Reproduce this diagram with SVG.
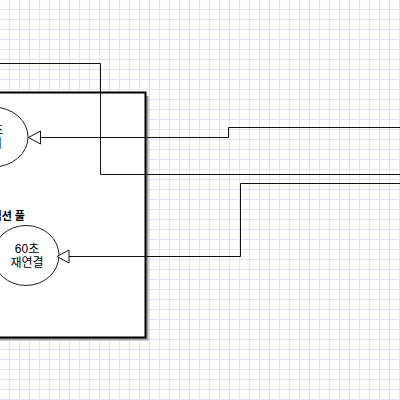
<svg xmlns="http://www.w3.org/2000/svg" width="400" height="400" viewBox="0 0 400 400">
  <defs>
    <pattern id="grid" x="9" y="9" width="10" height="10" patternUnits="userSpaceOnUse">
      <path d="M0.5,0 V10 M0,0.5 H10" fill="none" stroke="#e2e2ff" stroke-width="1.2"/>
    </pattern>
    <style>
      .conn { fill: none; stroke: #111; stroke-width: 1; }
      .arrow { fill: #fff; stroke: #111; stroke-width: 1; }
      .node { fill: #fff; stroke: #222; stroke-width: 1; }
      .lbl { font-family: "Liberation Sans", "Noto Sans CJK KR", sans-serif; font-size: 12px; fill: #000; text-anchor: middle; }
      .title { font-family: "Liberation Sans", "Noto Sans CJK KR", sans-serif; font-size: 11px; font-weight: bold; fill: #000; text-anchor: end; }
    </style>
  </defs>
  <rect x="0" y="0" width="400" height="400" fill="#fff"/>
  <rect x="0" y="0" width="400" height="400" fill="url(#grid)"/>

  <g id="pool">
    <rect x="-10" y="96" width="158.5" height="244.5" fill="#a0a0a0"/>
    <rect x="-13" y="92.5" width="158.5" height="245" fill="#fff" stroke="#000" stroke-width="2"/>
    <text class="title" x="25" y="220">커넥션 풀</text>
  </g>

  <g id="connectors">
    <path class="conn" d="M0,63.5 H100.5 V174.5 H400"/>
    <path class="conn" d="M400,127.5 H228.5 V137.5 H40.5"/>
    <path class="conn" d="M400,183.5 H240.5 V256.5 H69"/>
  </g>

  <g id="node-timeout">
    <ellipse class="node" cx="-7" cy="137" rx="35" ry="30"/>
    <text class="lbl" x="-9" y="134">30초</text>
    <text class="lbl" x="-9" y="148">대기</text>
  </g>

  <g id="node-reconnect">
    <ellipse class="node" cx="26" cy="255.5" rx="33" ry="30"/>
    <text class="lbl" x="27" y="253">60초</text>
    <text class="lbl" x="27" y="267">재연결</text>
  </g>

  <g id="arrowheads">
    <polygon class="arrow" points="28.5,137.5 40.5,131 40.5,144"/>
    <polygon class="arrow" points="57,256.5 69,250 69,263"/>
  </g>
</svg>
